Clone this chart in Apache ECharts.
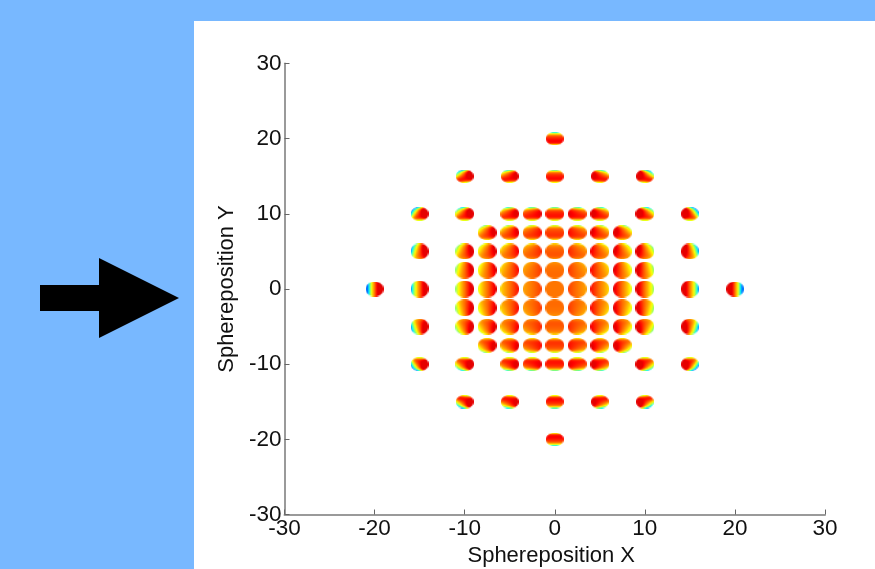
<!DOCTYPE html>
<html><head><meta charset="utf-8">
<style>html,body{margin:0;padding:0;background:#78b8ff}#c{width:875px;height:569px}</style>
<script src="https://cdn.jsdelivr.net/npm/echarts@6/dist/echarts.min.js"></script>
</head><body><div id="c"></div>
<script>
var row0  = [-20,-15,-10,-7.5,-5,-2.5,0,2.5,5,7.5,10,15,20];
var row25 = [-10,-7.5,-5,-2.5,0,2.5,5,7.5,10];
var row5  = [-15,-10,-7.5,-5,-2.5,0,2.5,5,7.5,10,15];
var row75 = [-7.5,-5,-2.5,0,2.5,5,7.5];
var row10 = [-15,-10,-5,-2.5,0,2.5,5,10,15];
var row15 = [-10,-5,0,5,10];
var row20 = [0];
var rowY  = [0,2.5,-2.5,5,-5,7.5,-7.5,10,-10,15,-15,20,-20];
var rowX  = [row0,row25,row25,row5,row5,row75,row75,row10,row10,row15,row15,row20,row20];
var xTitle = 'Sphereposition X', yTitle = 'Sphereposition Y';

function jet(t){
  t=Math.max(.24,Math.min(.9,t));
  function c(x){return Math.round(255*Math.max(0,Math.min(1,1.5-Math.abs(4*t-x))));}
  return [c(3),c(2),c(1)];
}
function heightFor(X,Y){
  var a=Math.abs(Y);
  if(a>=15)return 13.5; if(a>=10)return 14; if(a>=7.5)return 15; if(a>=5)return 16;
  return Math.abs(X)>=20?15:17;
}
function widthFor(X,Y){ return Math.abs(X)>=15||Math.abs(Y)>=15?18:19; }
function shade(X,Y,u,v){
  var s=X*u/15;
  var tx=s>0?-(.28*s+.27*s*s*s):.33*(-s);
  var q=Math.min(.38,.004*Y*Y), c=Math.min(.09,.001*Y*Y);
  var cross=Math.max(-.18,Math.min(.18,.0026*X*Y*u*v));
  return .76+tx+c-q*v*v*v*v-.14*q*v*v-.006*Y*v-cross;
}
function sprite(X,Y,w,h){
  var sc=.8,W=Math.round(w*sc),H=Math.round(h*sc);
  var cv=document.createElement('canvas');cv.width=W;cv.height=H;
  var ctx=cv.getContext('2d'),im=ctx.createImageData(W,H);
  for(var j=0;j<H;j++)for(var i=0;i<W;i++){
    var u=(i+.5)/W*2-1,v=1-(j+.5)/H*2,r=Math.sqrt(u*u+v*v);
    var col=jet(shade(X,Y,u,v)),k=(j*W+i)*4;
    im.data[k]=col[0];im.data[k+1]=col[1];im.data[k+2]=col[2];
    im.data[k+3]=255*Math.max(0,Math.min(1,(1-r)*W/2+.5));
  }
  ctx.putImageData(im,0,0);
  return cv.toDataURL();
}
var pts=[];
rowY.forEach(function(y,i){rowX[i].forEach(function(x){
  var w=widthFor(x,y),h=heightFor(x,y);
  pts.push({value:[x,y],symbol:'image://'+sprite(x,y,w,h),symbolSize:[w,h]});
});});
var font='"Liberation Sans",Arial,sans-serif';
var axisCommon={type:'value',min:-30,max:30,interval:10,
  axisLine:{show:true,onZero:false,lineStyle:{color:'#9a9a9a',width:2}},
  axisTick:{show:true,inside:true,length:5,lineStyle:{color:'#666',width:1}},
  splitLine:{show:false},
  nameLocation:'middle'
};
var chart=echarts.init(document.getElementById('c'),null,{renderer:'canvas'});
chart.setOption({
  animation:false,
  backgroundColor:'#78b8ff',
  graphic:[
    {type:'rect',z:-10,shape:{x:194,y:21,width:681,height:548},style:{fill:'#fff'}},
    {type:'polygon',z:-5,shape:{points:[[40,285],[99,285],[99,258],[179,298],[99,338],[99,311],[40,311]]},style:{fill:'#000'}}
  ],
  grid:{left:284.5,top:63.5,width:540.5,height:451,outerBoundsMode:'none'},
  xAxis:Object.assign({},axisCommon,{name:xTitle,nameGap:25,
    nameTextStyle:{fontFamily:font,fontSize:22,color:'#111',padding:[0,7,0,0]},
    axisLabel:{fontFamily:font,fontSize:22.5,color:'#111',margin:3}}),
  yAxis:Object.assign({},axisCommon,{name:yTitle,nameGap:45,
    nameTextStyle:{fontFamily:font,fontSize:22,color:'#111'},
    axisLabel:{fontFamily:font,fontSize:22.5,color:'#111',margin:3}}),
  series:[{type:'scatter',data:pts,clip:false,itemStyle:{opacity:1}}]
});
</script></body></html>
